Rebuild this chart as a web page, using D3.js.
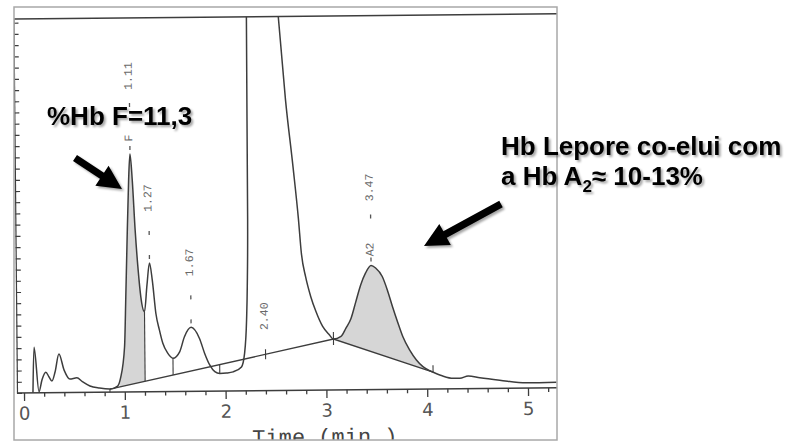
<!DOCTYPE html>
<html>
<head>
<meta charset="utf-8">
<script src="https://cdn.jsdelivr.net/npm/d3@7"></script>
<style>
  body { margin: 0; background: #fff; }
  svg { display: block; }
</style>
</head>
<body>
<svg id="chart" width="790" height="441"></svg>
<script>
// chromatogram trace (time in min, signal in % of full scale)
const traceTime = [0.089, 0.104, 0.149, 0.18, 0.218, 0.25, 0.278, 0.31, 0.35, 0.40, 0.456, 0.526, 0.58, 0.655, 0.75, 0.853,
  0.93, 0.959, 1.002, 1.019, 1.035, 1.058, 1.074, 1.094, 1.118, 1.144, 1.168, 1.203, 1.23, 1.257, 1.283, 1.316, 1.349,
  1.382, 1.431, 1.481, 1.548, 1.597, 1.664, 1.746, 1.796, 1.845, 1.895, 1.944, 2.01, 2.076, 2.16, 2.192, 2.215, 2.225,
  2.235, 2.242, 2.40, 2.557, 2.622, 2.69, 2.738, 2.765, 2.805, 2.854, 2.904, 2.969, 3.036, 3.075, 3.15, 3.2, 3.25, 3.3,
  3.35, 3.40, 3.455, 3.50, 3.565, 3.614, 3.664, 3.713, 3.763, 3.829, 3.896, 3.96, 4.028, 4.06, 4.15, 4.26, 4.325, 4.408,
  4.524, 4.72, 4.987, 5.284];
const traceSignal = [0, 12.2, 0.3, 3.5, 5.5, 4.2, 3.1, 5.5, 10.3, 6.0, 3.6, 3.9, 2.9, 1.7, 1.1, 0.8,
  1.6, 3.7, 12.1, 25.4, 38.8, 56.6, 63.6, 56.7, 43.3, 32.6, 25.4, 21.4, 28.5, 34.4, 29.9, 20.9, 16.5,
  12.9, 10.2, 8.9, 10.6, 14.6, 17.1, 14.1, 10.1, 7.0, 5.2, 4.7, 4.8, 5.1, 6.4, 10.0, 19.0, 27.8,
  45.7, 100, 170, 100.4, 77.7, 59.8, 46.1, 36.6, 30.3, 25.0, 21.0, 17.0, 14.7, 13.6, 14.3, 16.5, 19.0, 23.5,
  28.0, 31.2, 33.2, 32.5, 30.2, 26.6, 22.1, 18.0, 14.1, 10.5, 7.8, 6.0, 4.9, 4.5, 3.5, 2.8, 2.8, 3.4,
  2.9, 2.2, 1.4, 1.5];

// integration baseline
const baseTime = [0.853, 3.075, 4.06];
const baseSignal = [0.8, 13.6, 4.5];

// peak markers
const peakTime = [1.074, 1.257, 1.664, 2.40, 3.455];
const peakLabel = ["1.11", "1.27", "1.67", "2.40", "3.47"];
const peakName = ["F", "", "", "", "A2"];
const dropTime = [1.203, 1.481, 1.944];
const shadedRanges = [[0.95, 1.203], [3.075, 4.06]];

const xTicks = [0, 1, 2, 3, 4, 5];
const xMinorTicks = d3.range(0.2, 5.3, 0.2).filter(d => Math.abs(d - Math.round(d)) > 0.01);
const yTicks = d3.range(0, 100, 3);

const svg = d3.select("#chart");
const lineColor = "#3d3d3d";

const x = d3.scaleLinear().domain([0, 5]).range([24, 528]);
const y = d3.scaleLinear().domain([0, 100]).range([393, 19]);
const base = d3.scaleLinear().domain(baseTime).range(baseSignal).clamp(true);

const plotLeft = 17, plotRight = 562, plotTop = 19, plotBottom = 393;

const defs = svg.append("defs");
defs.append("clipPath").attr("id", "frame-clip")
  .append("rect").attr("x", 14).attr("y", 7).attr("width", 543).attr("height", 433);
defs.append("clipPath").attr("id", "plot-clip")
  .append("rect").attr("x", plotLeft).attr("y", plotTop)
  .attr("width", plotRight - plotLeft).attr("height", plotBottom - plotTop);
const shadeClip = defs.append("clipPath").attr("id", "shade-clip");
shadedRanges.forEach(r => {
  shadeClip.append("rect").attr("x", x(r[0])).attr("y", plotTop)
    .attr("width", x(r[1]) - x(r[0])).attr("height", plotBottom - plotTop);
});
defs.append("filter").attr("id", "shadow")
  .attr("x", "-10%").attr("y", "-20%").attr("width", "130%").attr("height", "160%")
  .append("feDropShadow").attr("dx", 2).attr("dy", 2).attr("stdDeviation", 1.3)
  .attr("flood-color", "#000").attr("flood-opacity", 0.35);

// scanned page: slightly tilted
const page = svg.append("g").attr("clip-path", "url(#frame-clip)");
const g = page.append("g").attr("transform", `rotate(-0.55, ${plotLeft}, ${plotBottom})`);

// top border of the plot
g.append("line")
  .attr("x1", plotLeft).attr("x2", plotRight).attr("y1", plotTop).attr("y2", plotTop)
  .attr("stroke", lineColor).attr("stroke-width", 1.4);

// y axis
g.append("g")
  .attr("transform", `translate(${plotLeft},0)`)
  .call(d3.axisRight(y).tickValues(yTicks).tickSize(5).tickSizeOuter(0).tickFormat(""))
  .call(a => a.selectAll("line,path").attr("stroke", lineColor).attr("stroke-width", 1.2));

// x axis
g.append("line")
  .attr("x1", plotLeft).attr("x2", plotRight).attr("y1", plotBottom).attr("y2", plotBottom)
  .attr("stroke", lineColor).attr("stroke-width", 1.4);
g.append("g")
  .attr("transform", `translate(0,${plotBottom})`)
  .call(d3.axisBottom(x).tickValues(xMinorTicks).tickSize(4).tickFormat(""))
  .call(a => a.select(".domain").remove())
  .call(a => a.selectAll("line").attr("stroke", lineColor).attr("stroke-width", 1.3));
g.append("g")
  .attr("transform", `translate(0,${plotBottom})`)
  .call(d3.axisBottom(x).tickValues(xTicks).tickSize(8).tickPadding(6).tickFormat(d3.format("d")))
  .call(a => a.select(".domain").remove())
  .call(a => a.selectAll("line").attr("stroke", lineColor).attr("stroke-width", 1.3))
  .call(a => a.selectAll("text")
    .attr("font-family", "'DejaVu Sans', Verdana, sans-serif")
    .attr("font-size", 18).attr("fill", "#555"));

g.append("text")
  .attr("x", x(2.98)).attr("y", 447)
  .attr("text-anchor", "middle")
  .attr("font-family", "'Liberation Mono', 'Courier New', monospace")
  .attr("font-size", 22).attr("fill", "#444")
  .text("Time (min.)");

const plot = g.append("g").attr("clip-path", "url(#plot-clip)");
const pts = traceTime.map((t, i) => [t, traceSignal[i]]);

// shaded peak areas (F and A2)
plot.append("path")
  .datum(pts)
  .attr("clip-path", "url(#shade-clip)")
  .attr("fill", "#d6d6d6")
  .attr("d", d3.area()
    .x(d => x(d[0]))
    .y0(d => y(base(d[0])))
    .y1(d => y(d[1]))
    .curve(d3.curveMonotoneX));

// integration baseline
plot.append("path")
  .datum(baseTime.map((t, i) => [t, baseSignal[i]]))
  .attr("fill", "none").attr("stroke", lineColor).attr("stroke-width", 1.4)
  .attr("d", d3.line().x(d => x(d[0])).y(d => y(d[1])));

// drop lines between peaks
const signalAt = t => {
  const i = d3.bisectLeft(traceTime, t);
  if (i <= 0) return traceSignal[0];
  const t0 = traceTime[i - 1], t1 = traceTime[i];
  return traceSignal[i - 1] + (traceSignal[i] - traceSignal[i - 1]) * (t - t0) / (t1 - t0);
};
plot.selectAll(".drop")
  .data(dropTime)
  .join("line")
  .attr("class", "drop")
  .attr("x1", d => x(d)).attr("x2", d => x(d))
  .attr("y1", d => y(signalAt(d))).attr("y2", d => y(base(d)))
  .attr("stroke", lineColor).attr("stroke-width", 1.1);

// baseline event ticks
plot.selectAll(".btick")
  .data(baseTime)
  .join("line")
  .attr("class", "btick")
  .attr("x1", d => x(d)).attr("x2", d => x(d))
  .attr("y1", (d, i) => y(base(d)) + (i === 0 ? 0 : -7))
  .attr("y2", (d, i) => y(base(d)) + (i === baseTime.length - 1 ? 0 : 6))
  .attr("stroke", lineColor).attr("stroke-width", 1.1);

// trace
plot.append("path")
  .datum(pts)
  .attr("fill", "none").attr("stroke", lineColor).attr("stroke-width", 1.5)
  .attr("d", d3.line().x(d => x(d[0])).y(d => y(d[1])).curve(d3.curveMonotoneX));

// peak labels
const labelFont = "'Liberation Mono', 'Courier New', monospace";
peakTime.forEach((t, i) => {
  const offScale = signalAt(t) > 100;
  const top = offScale ? y(base(t)) : y(signalAt(t));
  const named = peakName[i] !== "";
  const marks = offScale ? [] : (named ? [-4, -47] : [-4, -28]);
  const numY = offScale ? top - 38 : top - (named ? 78 : 65);
  plot.append("text")
    .attr("transform", `translate(${x(t) - 1},${numY}) rotate(-90)`)
    .attr("text-anchor", "middle").attr("dominant-baseline", "central")
    .attr("font-family", labelFont).attr("font-size", 11.5).attr("fill", "#6a6a6a")
    .text(peakLabel[i]);
  if (named) {
    plot.append("text")
      .attr("transform", `translate(${x(t) - 1},${top - 16}) rotate(-90)`)
      .attr("text-anchor", "middle").attr("dominant-baseline", "central")
      .attr("font-family", labelFont).attr("font-size", 11.5).attr("fill", "#6a6a6a")
      .text(peakName[i]);
  }
  marks.forEach(m => {
    plot.append("line")
      .attr("x1", x(t)).attr("x2", x(t))
      .attr("y1", top + m - 4).attr("y2", top + m)
      .attr("stroke", "#555").attr("stroke-width", 1.3);
  });
  if (offScale) {
    plot.append("line")
      .attr("x1", x(t)).attr("x2", x(t))
      .attr("y1", top - 5).attr("y2", top + 5)
      .attr("stroke", lineColor).attr("stroke-width", 1.1);
  }
});

// outer frame of the scanned figure
svg.append("rect")
  .attr("x", 14).attr("y", 7).attr("width", 543).attr("height", 433)
  .attr("fill", "none").attr("stroke", "#a8a8a8").attr("stroke-width", 1.5);

// annotations
const arrowPath = (x0, y0, x1, y1) => {
  const len = Math.hypot(x1 - x0, y1 - y0);
  const ux = (x1 - x0) / len, uy = (y1 - y0) / len;
  const nx = -uy, ny = ux;
  const w = 3.6, hw = 12, hl = 24;
  const bx = x1 - ux * hl, by = y1 - uy * hl;
  const p = [
    [x0 + nx * w, y0 + ny * w], [bx + nx * w, by + ny * w], [bx + nx * hw, by + ny * hw],
    [x1, y1],
    [bx - nx * hw, by - ny * hw], [bx - nx * w, by - ny * w], [x0 - nx * w, y0 - ny * w]
  ];
  return "M" + p.map(q => q.join(",")).join("L") + "Z";
};
const notes = svg.append("g").attr("filter", "url(#shadow)");
notes.append("path").attr("d", arrowPath(75, 158, 122, 189)).attr("fill", "#000");
notes.append("path").attr("d", arrowPath(501, 204, 424, 246)).attr("fill", "#000");

const noteFont = "'Liberation Sans', Arial, sans-serif";
notes.append("text")
  .attr("x", 47).attr("y", 125)
  .attr("font-family", noteFont).attr("font-weight", "bold").attr("font-size", 26)
  .text("%Hb F=11,3");
notes.append("text")
  .attr("x", 501).attr("y", 155)
  .attr("font-family", noteFont).attr("font-weight", "bold").attr("font-size", 26)
  .text("Hb Lepore co-elui com");
const l2 = notes.append("text")
  .attr("x", 501).attr("y", 185)
  .attr("font-family", noteFont).attr("font-weight", "bold").attr("font-size", 26);
l2.append("tspan").text("a Hb A");
l2.append("tspan").attr("font-size", 17).attr("dy", 7).text("2");
l2.append("tspan").attr("dy", -7).text("\u2248 10-13%");
</script>
</body>
</html>
